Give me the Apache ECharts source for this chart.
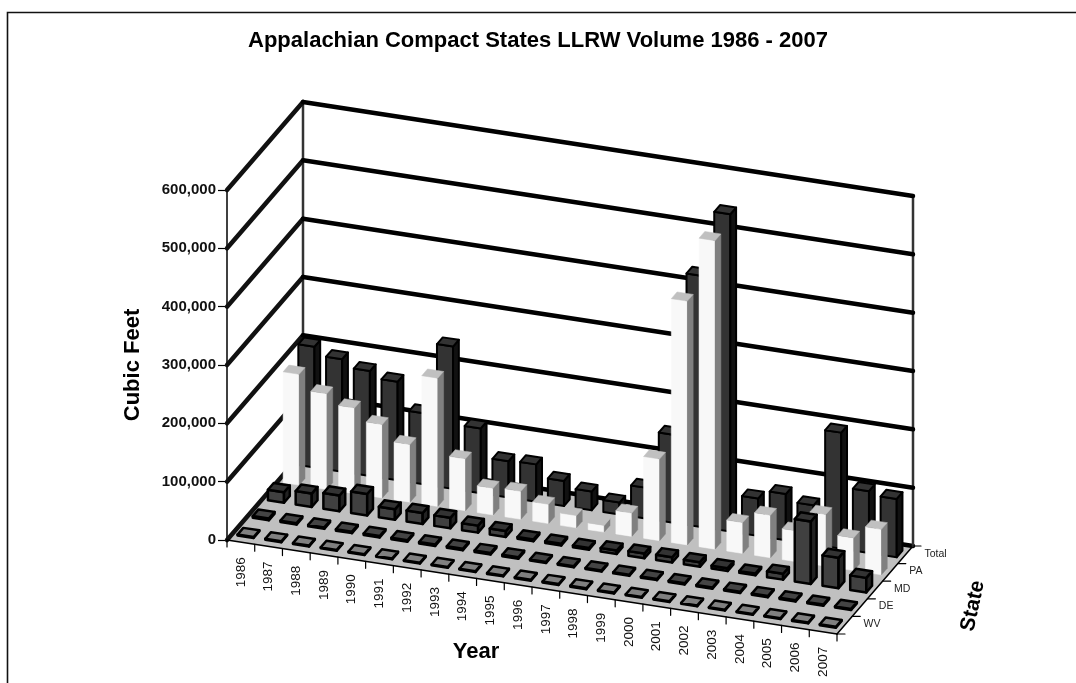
<!DOCTYPE html>
<html><head><meta charset="utf-8">
<style>html,body{margin:0;padding:0;background:#fff}#c{width:1076px;height:683px}</style>
<script src="https://cdn.jsdelivr.net/npm/echarts@6/dist/echarts.min.js"></script>
</head><body><div id="c"></div>
<script>
const years = [1986,1987,1988,1989,1990,1991,1992,1993,1994,1995,1996,1997,1998,1999,2000,2001,2002,2003,2004,2005,2006,2007];
const states = ['WV','DE','MD','PA','Total'];
const valueTicks = [0,100000,200000,300000,400000,500000,600000];
const wv    = [1500,1500,1500,1500,1500,1500,1500,1500,1500,1500,1500,1500,1500,1500,1500,1500,1500,1500,1500,1500,1500,1500];
const de    = [3000,2500,2500,2500,2500,2500,2500,2500,2500,2500,2000,2000,2000,2000,2000,2000,2000,2000,2000,2000,2000,2000];
const md    = [18000,23000,27000,37000,18000,19000,18000,12000,10000,3000,3000,3000,6000,8000,9000,8000,5000,3000,10000,107000,52000,25000];
const pa    = [190000,164000,147000,126000,99000,220000,89000,46000,48000,33000,21000,11500,40000,140000,418000,529000,53000,73000,53000,89000,56000,78000];
const total = [207000,193000,180000,169000,122000,244000,111000,62000,64000,43000,32000,20500,53000,151000,431000,544000,64000,79000,67000,199000,106000,100000];

const FONT = '"Liberation Sans", Arial, sans-serif';
// oblique projection: px per year along the floor slope, px per state row into depth
const slopeY = 94/22, depthX = 15.2, depthY = 17.6;
function project(api, i, r, v){
  const p = api.coord([i, v]);
  return [p[0] + r*depthX, p[1] + i*slopeY - r*depthY];
}
const nY = years.length, nS = states.length;
const barW = 0.58, barD = 0.38;

function barSeries(name, row, values, st){
  return {
    type:'custom', name, coordinateSystem:'cartesian2d', clip:false, z:3+ (4-row),
    encode:{x:0,y:1},
    data: values.map((v,i)=>[i,v]),
    renderItem(params, api){
      const i = api.value(0), v = api.value(1);
      const x0=i+0.5-barW/2, x1=i+0.5+barW/2, z0=row+0.5-barD/2, z1=row+0.5+barD/2;
      const P=(x,z,h)=>project(api,x,z,h);
      const s = (fill)=>({fill, stroke:st.stroke||fill, lineWidth:st.lw||0.5, lineJoin:'round'});
      return {type:'group', children:[
        {type:'polygon', shape:{points:[P(x0,z0,0),P(x1,z0,0),P(x1,z0,v),P(x0,z0,v)]}, style:s(st.front)},
        {type:'polygon', shape:{points:[P(x1,z0,0),P(x1,z1,0),P(x1,z1,v),P(x1,z0,v)]}, style:s(st.side)},
        {type:'polygon', shape:{points:[P(x0,z0,v),P(x1,z0,v),P(x1,z1,v),P(x0,z1,v)]}, style:s(st.top)}
      ]};
    }
  };
}
const line=(a,b,stroke,lw)=>({type:'line',shape:{x1:a[0],y1:a[1],x2:b[0],y2:b[1]},style:{stroke,lineWidth:lw,lineCap:'round'}});

const scene = {
  type:'custom', name:'walls', coordinateSystem:'cartesian2d', clip:false, z:1, silent:true,
  encode:{x:0,y:1},
  data: valueTicks.map(v=>[0,v]),
  renderItem(params, api){
    const v = api.value(1), ch=[], P=(i,r,h)=>project(api,i,r,h);
    if(v===0){
      ch.push({type:'polygon',shape:{points:[P(0,0,0),P(nY,0,0),P(nY,nS,0),P(0,nS,0)]},style:{fill:'#c0c0c0'}});
      ch.push(line(P(0,0,0),P(0,nS,0),'#111',4.5));
      ch.push(line(P(0,nS,0),P(nY,nS,0),'#000',4.5));
      ch.push(line(P(0,0,0),P(nY,0,0),'#000',1.5));
      ch.push(line(P(nY,0,0),P(nY,nS,0),'#000',1.5));
      ch.push(line(P(0,nS,0),P(0,nS,600000),'#333',2.5));
      ch.push(line(P(nY,nS,0),P(nY,nS,600000),'#333',2.5));
    } else {
      ch.push(line(P(0,0,v),P(0,nS,v),'#111',4.5));
      ch.push(line(P(0,nS,v),P(nY,nS,v),'#000',4.5));
    }
    return {type:'group',children:ch};
  }
};

const yearAxis = {
  type:'custom', name:'yearAxis', coordinateSystem:'cartesian2d', clip:false, z:20, silent:true,
  encode:{x:0,y:1},
  data: years.map((y,i)=>[i,0]).concat([[nY,0]]),
  renderItem(params, api){
    const i=api.value(0), a=project(api,i,0,0), ch=[line(a,[a[0],a[1]+7],'#000',1.2)];
    if(i<nY){
      const c=project(api,i+0.5,0,0);
      ch.push({type:'text',x:c[0],y:c[1]+30,rotation:Math.PI/2,
        style:{text:String(years[i]),font:'13.5px '+FONT,fill:'#111',textAlign:'center',textVerticalAlign:'middle'}});
    }
    return {type:'group',children:ch};
  }
};
const stateAxis = {
  type:'custom', name:'stateAxis', coordinateSystem:'cartesian2d', clip:false, z:20, silent:true,
  encode:{x:0,y:1},
  data: states.map((s,r)=>[r,0]).concat([[nS,0]]),
  renderItem(params, api){
    const r=api.value(0), a=project(api,nY,r,0), ch=[line(a,[a[0]+8,a[1]],'#000',1.2)];
    if(r<nS){
      const c=project(api,nY,r+0.5,0);
      ch.push({type:'text',x:c[0]+19,y:c[1]-1,
        style:{text:states[r],font:'10.5px '+FONT,fill:'#222',textAlign:'left',textVerticalAlign:'middle'}});
    }
    return {type:'group',children:ch};
  }
};

const chart = echarts.init(document.getElementById('c'),null,{renderer:'canvas',width:1076,height:683});
chart.setOption({
  animation:false,
  backgroundColor:'#fff',
  title:{text:'Appalachian Compact States LLRW Volume 1986 - 2007',left:'center',top:25,
    textStyle:{fontFamily:FONT,fontWeight:'bold',fontSize:22,color:'#000'}},
  grid:{left:227,top:190,width:610,height:350},
  xAxis:{type:'value',min:0,max:22,show:false},
  yAxis:{type:'value',min:0,max:600000,interval:100000,
    name:'Cubic Feet',nameLocation:'middle',nameGap:83,nameRotate:90,
    nameTextStyle:{fontFamily:FONT,fontWeight:'bold',fontSize:22,color:'#000'},
    axisLine:{show:true,lineStyle:{color:'#000',width:1.5}},
    axisTick:{show:true,length:9,lineStyle:{color:'#000',width:1.2}},
    splitLine:{show:false},
    axisLabel:{fontFamily:FONT,fontWeight:'bold',fontSize:15,color:'#111',margin:11,
      formatter:v=>v.toLocaleString('en-US')}},
  graphic:[
    {type:'polyline',shape:{points:[[7.5,683],[7.5,12.5],[1076,12.5]]},style:{stroke:'#111',lineWidth:1.6,fill:null}},
    {type:'text',x:476,y:652,style:{text:'Year',font:'bold 22px '+FONT,fill:'#000',textAlign:'center',textVerticalAlign:'middle'}},
    {type:'text',x:973,y:606,rotation:Math.PI*78/180,style:{text:'State',font:'bold 21px '+FONT,fill:'#000',textAlign:'center',textVerticalAlign:'middle'}}
  ],
  series:[
    scene,
    barSeries('Total',4,total,{front:'#333',side:'#111',top:'#333',stroke:'#000',lw:2}),
    barSeries('PA',3,pa,{front:'#f8f8f8',side:'#808080',top:'#c0c0c0'}),
    barSeries('MD',2,md,{front:'#404040',side:'#222',top:'#333',stroke:'#000',lw:2.5}),
    barSeries('DE',1,de,{front:'#444',side:'#222',top:'#444',stroke:'#000',lw:2.5}),
    barSeries('WV',0,wv,{front:'#808080',side:'#555',top:'#808080',stroke:'#000',lw:2.5}),
    yearAxis,stateAxis
  ]
});
</script></body></html>
